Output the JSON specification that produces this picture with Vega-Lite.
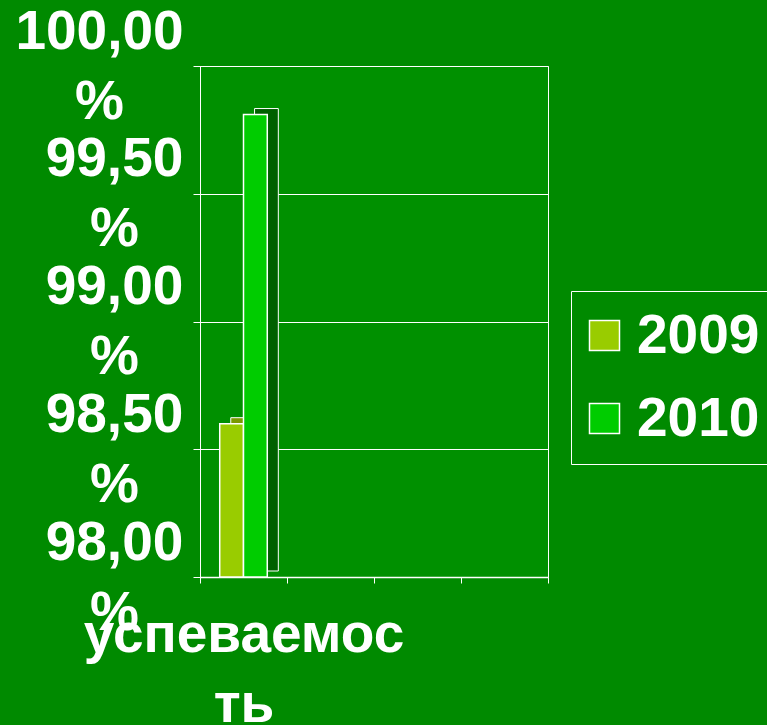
{
  "$schema": "https://vega.github.io/schema/vega-lite/v6.json",
  "width": 348,
  "height": 511,
  "autosize": {"type": "none"},
  "padding": {"left": 200, "top": 66, "right": 219, "bottom": 148},
  "background": "#008a00",
  "config": {
    "view": {"fill": "#009000", "stroke": "#ffffff", "strokeWidth": 1},
    "font": "Liberation Sans"
  },
  "data": {
    "values": [
      {"category": "успеваемость", "year": "2009", "value": 98.6},
      {"category": "успеваемость", "year": "2010", "value": 99.81}
    ]
  },
  "encoding": {
    "x": {
      "field": "category",
      "type": "nominal",
      "scale": {"domain": ["успеваемость", "c2", "c3", "c4"], "paddingInner": 0, "paddingOuter": 0},
      "axis": {
        "title": null,
        "labelExpr": "datum.value == 'успеваемость' ? ['успеваемос', 'ть'] : ''",
        "labelAngle": 0,
        "labelFont": "Liberation Sans",
        "labelFontSize": 55,
        "labelFontWeight": "bold",
        "labelColor": "#ffffff",
        "labelLineHeight": 70,
        "labelBaseline": "alphabetic",
        "labelPadding": 68,
        "labelLimit": 0,
        "labelOverlap": false,
        "labelBound": false,
        "labelFlush": false,
        "tickBand": "extent",
        "tickColor": "#ffffff",
        "tickSize": 6,
        "domainColor": "#ffffff",
        "domainWidth": 1.5
      }
    },
    "y": {
      "field": "value",
      "type": "quantitative",
      "scale": {"domain": [98, 100], "zero": false, "nice": false},
      "axis": {
        "title": null,
        "values": [98, 98.5, 99, 99.5, 100],
        "labelExpr": "[replace(format(datum.value, '.2f'), '.', ','), '%']",
        "labelFont": "Liberation Sans",
        "labelFontSize": 55,
        "labelFontWeight": "bold",
        "labelColor": "#ffffff",
        "labelLineHeight": 70,
        "labelBaseline": "middle",
        "labelAlign": "center",
        "labelOffset": -35,
        "labelPadding": {"condition": {"test": "datum.value >= 100", "value": 94}, "value": 79},
        "labelLimit": 0,
        "labelOverlap": false,
        "labelBound": false,
        "labelFlush": false,
        "tickColor": "#ffffff",
        "tickSize": 7,
        "domainColor": "#ffffff",
        "grid": true,
        "gridColor": "#ffffff",
        "gridWidth": 1
      }
    },
    "y2": {"datum": 98}
  },
  "layer": [
    {
      "mark": {"type": "bar", "yOffset": -6, "y2Offset": -6, "stroke": "#ffffff", "strokeWidth": 1},
      "encoding": {
        "xOffset": {
          "field": "year",
          "type": "nominal",
          "scale": {"paddingInner": 0, "paddingOuter": 0.83, "align": 0.78}
        },
        "color": {"condition": {"test": "datum.year == '2009'", "value": "#7a9a00"}, "value": "#006000"}
      }
    },
    {
      "mark": {"type": "bar", "stroke": "#ffffff", "strokeWidth": 1.5},
      "encoding": {
        "xOffset": {
          "field": "year",
          "type": "nominal",
          "scale": {"paddingInner": 0, "paddingOuter": 0.83}
        },
        "color": {
          "field": "year",
          "type": "nominal",
          "scale": {"domain": ["2009", "2010"], "range": ["#99cc00", "#00cc00"]},
          "legend": {
            "title": null,
            "orient": "none",
            "legendX": 371,
            "legendY": 225,
            "symbolType": "square",
            "symbolSize": 900,
            "symbolOffset": -11,
            "symbolStrokeColor": "#ffffff",
            "symbolStrokeWidth": 1.5,
            "symbolOpacity": 1,
            "labelFont": "Liberation Sans",
            "labelFontSize": 55,
            "labelFontWeight": "bold",
            "labelColor": "#ffffff",
            "labelOffset": 5,
            "labelLimit": 0,
            "padding": 17,
            "rowPadding": 27,
            "strokeColor": "#ffffff"
          }
        }
      }
    }
  ],
  "resolve": {"scale": {"xOffset": "independent", "color": "independent"}}
}
